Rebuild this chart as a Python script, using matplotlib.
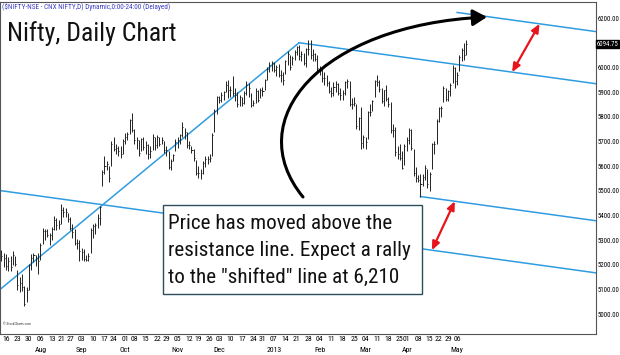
import numpy as np
import pandas as pd
import matplotlib
matplotlib.use('Agg')
import matplotlib.pyplot as plt
import matplotlib.transforms as mtransforms
from matplotlib.path import Path
from matplotlib.patches import FancyArrowPatch, Rectangle

NARROW = ['Roboto Condensed', 'Liberation Sans Narrow', 'Roboto', 'DejaVu Sans']

# NSE trading days shown on the chart (weekday holidays removed)
holidays = ['2012-08-15', '2012-08-20', '2012-09-19', '2012-10-02', '2012-10-24',
            '2012-11-14', '2012-11-28', '2012-12-25', '2013-03-27', '2013-03-29',
            '2013-04-19', '2013-04-24', '2013-05-01']
dates = pd.bdate_range('2012-07-12', '2013-05-10')
dates = dates[~dates.isin(pd.to_datetime(holidays))]

# daily bars, one row per week
closes = [
    5235, 5227,
    5197, 5216, 5192, 5242, 5205,
    5118, 5128, 5110, 5043, 5100,
    5199, 5229, 5240, 5227, 5215,
    5282, 5336, 5338, 5322, 5320,
    5347, 5380, 5362, 5366,
    5421, 5413, 5415, 5387,
    5350, 5334, 5288, 5287, 5258,
    5254, 5225, 5221, 5238, 5342,
    5358, 5363, 5390, 5435, 5577,
    5600, 5610, 5554, 5691,
    5669, 5673, 5663, 5649, 5703,
    5718, 5731, 5787, 5747,
    5705, 5704, 5652, 5708, 5676,
    5687, 5648, 5660, 5718, 5684,
    5717, 5691, 5705, 5664,
    5665, 5597, 5619, 5645, 5698,
    5704, 5725, 5760, 5738, 5686,
    5684, 5666, 5631, 5574,
    5571, 5571, 5614, 5627, 5627,
    5635, 5727, 5825, 5879,
    5870, 5889, 5901, 5930, 5907,
    5908, 5898, 5888, 5851, 5879,
    5857, 5896, 5929, 5916, 5847,
    5855, 5905, 5870, 5908,
    5905, 5950, 5993, 6009, 6016,
    5988, 6001, 5971, 5968, 5951,
    6024, 6056, 6001, 6039, 6064,
    6082, 6048, 6054, 6019, 6074,
    6074, 6049, 6055, 6034, 5998,
    5987, 5956, 5959, 5938, 5903,
    5897, 5922, 5932, 5896, 5887,
    5898, 5939, 5943, 5852, 5850,
    5856, 5761, 5794, 5693, 5719,
    5699, 5819, 5818, 5864, 5945,
    5942, 5914, 5863, 5909, 5873,
    5852, 5746, 5745, 5658, 5651,
    5634, 5592, 5683,
    5705, 5748, 5674, 5574, 5553,
    5543, 5529, 5558, 5594, 5528,
    5569, 5689, 5688, 5783,
    5834, 5836, 5917, 5871,
    5904, 5930, 5999, 5944,
    5971, 6043, 6070, 6050, 6094.75,
]
highs = [
    5260, 5250,
    5245, 5230, 5235, 5258, 5235,
    5180, 5150, 5165, 5115, 5110,
    5205, 5245, 5250, 5240, 5250,
    5290, 5348, 5345, 5345, 5330,
    5355, 5400, 5390, 5380,
    5448, 5435, 5430, 5410,
    5395, 5365, 5345, 5305, 5300,
    5270, 5265, 5240, 5250, 5350,
    5365, 5370, 5405, 5440, 5585,
    5640, 5620, 5600, 5700,
    5720, 5690, 5680, 5680, 5710,
    5735, 5740, 5790, 5815,
    5750, 5720, 5705, 5715, 5720,
    5700, 5690, 5680, 5730, 5720,
    5725, 5720, 5720, 5700,
    5680, 5660, 5630, 5650, 5710,
    5720, 5730, 5777, 5755, 5740,
    5700, 5680, 5670, 5625,
    5600, 5590, 5620, 5640, 5640,
    5650, 5735, 5830, 5885,
    5885, 5900, 5905, 5945, 5950,
    5925, 5965, 5915, 5900, 5890,
    5880, 5905, 5945, 5935, 5895,
    5870, 5915, 5910, 5915,
    5920, 5955, 6000, 6020, 6025,
    6020, 6010, 6015, 5990, 5980,
    6030, 6065, 6050, 6045, 6070,
    6085, 6090, 6065, 6060, 6080,
    6110, 6112, 6075, 6060, 6050,
    6005, 6000, 5980, 5970, 5945,
    5920, 5940, 5945, 5935, 5915,
    5910, 5945, 5955, 5945, 5875,
    5880, 5850, 5800, 5840, 5725,
    5720, 5825, 5850, 5870, 5950,
    5971, 5950, 5915, 5910, 5930,
    5880, 5860, 5770, 5760, 5680,
    5690, 5660, 5690,
    5720, 5755, 5750, 5670, 5596,
    5565, 5570, 5570, 5605, 5590,
    5575, 5695, 5700, 5790,
    5840, 5845, 5925, 5915,
    5910, 5935, 6010, 6000,
    5980, 6050, 6080, 6100, 6110,
]
lows = [
    5215, 5190,
    5180, 5175, 5175, 5200, 5195,
    5100, 5090, 5095, 5032, 5050,
    5100, 5180, 5210, 5195, 5165,
    5220, 5285, 5300, 5312, 5280,
    5300, 5340, 5340, 5345,
    5365, 5395, 5395, 5375,
    5340, 5310, 5280, 5265, 5215,
    5218, 5215, 5215, 5215, 5250,
    5310, 5325, 5350, 5360, 5520,
    5570, 5585, 5535, 5600,
    5660, 5650, 5640, 5635, 5650,
    5690, 5705, 5730, 5740,
    5690, 5670, 5640, 5660, 5665,
    5650, 5630, 5635, 5665, 5665,
    5675, 5680, 5690, 5655,
    5640, 5590, 5585, 5620, 5660,
    5675, 5690, 5720, 5710, 5675,
    5670, 5655, 5620, 5565,
    5550, 5548, 5570, 5595, 5610,
    5615, 5640, 5740, 5810,
    5855, 5860, 5870, 5900, 5875,
    5880, 5885, 5865, 5840, 5845,
    5845, 5850, 5890, 5880, 5840,
    5845, 5855, 5860, 5875,
    5885, 5910, 5950, 5980, 5985,
    5980, 5965, 5960, 5940, 5930,
    5975, 6010, 5990, 6010, 6030,
    6050, 6030, 6025, 6010, 6000,
    6050, 6035, 6025, 6025, 5985,
    5970, 5940, 5930, 5925, 5895,
    5880, 5885, 5900, 5890, 5870,
    5870, 5890, 5915, 5845, 5830,
    5845, 5750, 5745, 5670, 5675,
    5670, 5710, 5805, 5825, 5880,
    5925, 5900, 5855, 5845, 5865,
    5840, 5735, 5720, 5640, 5630,
    5625, 5590, 5605,
    5660, 5690, 5665, 5560, 5535,
    5534, 5477, 5520, 5545, 5510,
    5500, 5590, 5650, 5690,
    5780, 5800, 5860, 5865,
    5865, 5885, 5935, 5915,
    5930, 5985, 6025, 6030, 6050,
]

# trend lines: anchors (date, price)
rise_anchors = [('2012-07-12', 5105), ('2013-01-22', 6100)]
resist_anchors = [('2013-01-22', 6100), ('2013-04-26', 6018)]
aug_anchor = ('2012-08-21', 5467)
april_anchor = ('2013-04-09', 5477)
target_start = '2013-05-06'

y_ticks = list(range(5000, 6201, 100))
last_price = 6094.75
header = '($NIFTY-NSE - CNX NIFTY,D) Dynamic,0:00-24:00 (Delayed)'
title = 'Nifty, Daily Chart'
note_lines = ['Price has moved above the',
              'resistance line. Expect a rally',
              'to the "shifted" line at 6,210']

idx = np.arange(len(dates))
pos = {d: i for i, d in enumerate(dates)}


def ix(d):
    return pos[pd.Timestamp(d)]


fig = plt.figure(figsize=(6.2, 3.55), dpi=100)
ax = fig.add_axes([0.0, 21 / 355, 596 / 620, 332 / 355])

# x scale: ~2.29 px per bar, Jul 16 at 6px
ppd = 2.29
xmin = ix('2012-07-16') - 6 / ppd
xmax = xmin + 596 / ppd
ax.set_xlim(xmin, xmax)
ax.set_ylim(4920, 6265)

# HLC bars
ax.vlines(idx, lows, highs, color='#222222', lw=0.7, zorder=3)
ax.hlines(closes, idx, idx + 0.45, color='#222222', lw=0.7, zorder=3)

# trend lines
blue = '#2f9ce0'
r0, r1 = [(ix(d), p) for d, p in rise_anchors]
rslope = (r1[1] - r0[1]) / (r1[0] - r0[0])
ax.plot([xmin, r1[0]], [r0[1] + rslope * (xmin - r0[0]), r1[1]], color=blue, lw=1.1, zorder=2)

s0, s1 = [(ix(d), p) for d, p in resist_anchors]
slope = (s1[1] - s0[1]) / (s1[0] - s0[0])


def chan(x, anchor_x, anchor_p):
    return anchor_p + slope * (np.asarray(x, dtype=float) - anchor_x)


ax.plot([s0[0], xmax], chan([s0[0], xmax], *s0), color=blue, lw=1.1, zorder=2)
ax_aug = (ix(aug_anchor[0]), aug_anchor[1])
ax.plot([xmin, xmax], chan([xmin, xmax], *ax_aug), color=blue, lw=1.1, zorder=2)
ax_apr = (ix(april_anchor[0]), april_anchor[1])
ax.plot([ax_apr[0], xmax], chan([ax_apr[0], xmax], *ax_apr), color=blue, lw=1.1, zorder=2)
shift = ax_apr[1] - chan(ax_apr[0], *ax_aug)
ts = ix(target_start)
ax.plot([ts, xmax], chan([ts, xmax], *s0) + shift, color=blue, lw=1.1, zorder=2)

# red double arrows showing the channel width
red = '#e8141b'
for xa, xb, base in [(188, 198, 'low'), (223, 235, 'high')]:
    if base == 'low':
        pa = chan(xa, *ax_aug)
        pb = chan(xb, *ax_apr)
    else:
        pa = chan(xa, *s0)
        pb = chan(xb, *s0) + shift
    ax.annotate('', xy=(xb, pb), xytext=(xa, pa),
                arrowprops=dict(arrowstyle='<|-|>,head_length=0.5,head_width=0.22',
                                color=red, lw=1.6, shrinkA=0, shrinkB=0), zorder=6)


# big black curved arrow (pixel positions -> axes fraction)
def px(x, y):
    return (x / 596, (334 - y) / 332)


verts = [px(303, 197), px(240, 120), px(320, 25), px(487, 17)]
curve = FancyArrowPatch(path=Path(verts, [Path.MOVETO, Path.CURVE4, Path.CURVE4, Path.CURVE4]),
                        arrowstyle='-|>,head_length=0.6,head_width=0.35', mutation_scale=14,
                        color='black', lw=2.2, transform=ax.transAxes, zorder=6)
ax.add_patch(curve)

# note box
bx0, by0 = px(163, 294)
bx1, by1 = px(422, 205)
ax.add_patch(Rectangle((bx0, by0), bx1 - bx0, by1 - by0, transform=ax.transAxes,
                       facecolor='white', edgecolor='#2d4f5c', lw=1.0, zorder=7))
for k, line in enumerate(note_lines):
    tx, ty = px(168, 229 + 27 * k)
    ax.text(tx, ty, line, transform=ax.transAxes, fontsize=15.2, family=NARROW,
            color='#111111', va='baseline', ha='left', zorder=8)

# titles
ax.text(*px(2, 9), header, transform=ax.transAxes, fontsize=5.2, family=NARROW,
        color='#3b3bc4', va='baseline', ha='left')
ax.text(*px(7, 41), title, transform=ax.transAxes, fontsize=18.5, family=NARROW,
        color='#111111', va='baseline', ha='left')
ax.text(*px(3, 325), '\u00a9 StockCharts.com', transform=ax.transAxes, fontsize=2.5,
        family=NARROW, color='#333333', va='baseline', ha='left')

# y axis on the right
ax.yaxis.tick_right()
ax.set_yticks(y_ticks)
ax.set_yticklabels([f'{v:.2f}' for v in y_ticks], family=NARROW, fontsize=4.9)
ax.tick_params(axis='y', length=0, pad=1.0)
yb = mtransforms.blended_transform_factory(ax.transAxes, ax.transData)
ax.text(1.001, last_price, f'{last_price:.2f}', transform=yb, fontsize=4.9, family=NARROW,
        color='white', va='center', ha='left',
        bbox=dict(boxstyle='square,pad=0.1', facecolor='black', edgecolor='black'))

# x axis: weekly ticks at first trading day, month labels under them
weeks = pd.Series(idx, index=dates).groupby(dates.to_period('W')).first()
tick_pos = list(weeks.values[1:])
tick_dates = [dates[i] for i in tick_pos]
ax.set_xticks(tick_pos)
ax.set_xticklabels([d.strftime('%d') for d in tick_dates], family=NARROW, fontsize=5.6)
ax.tick_params(axis='x', length=0, pad=1.5)
xb = mtransforms.blended_transform_factory(ax.transData, ax.transAxes)
prev = tick_dates[0].month
for p, d in zip(tick_pos, tick_dates):
    if d.month != prev:
        lab = d.strftime('%Y') if d.month == 1 else d.strftime('%b')
        ax.text(p, -16 / 332, lab, transform=xb, fontsize=5.6, family=NARROW,
                va='center', ha='center')
    prev = d.month

for s in ax.spines.values():
    s.set_color('#555555')
    s.set_linewidth(0.8)

fig.savefig('out.png', dpi=100)
